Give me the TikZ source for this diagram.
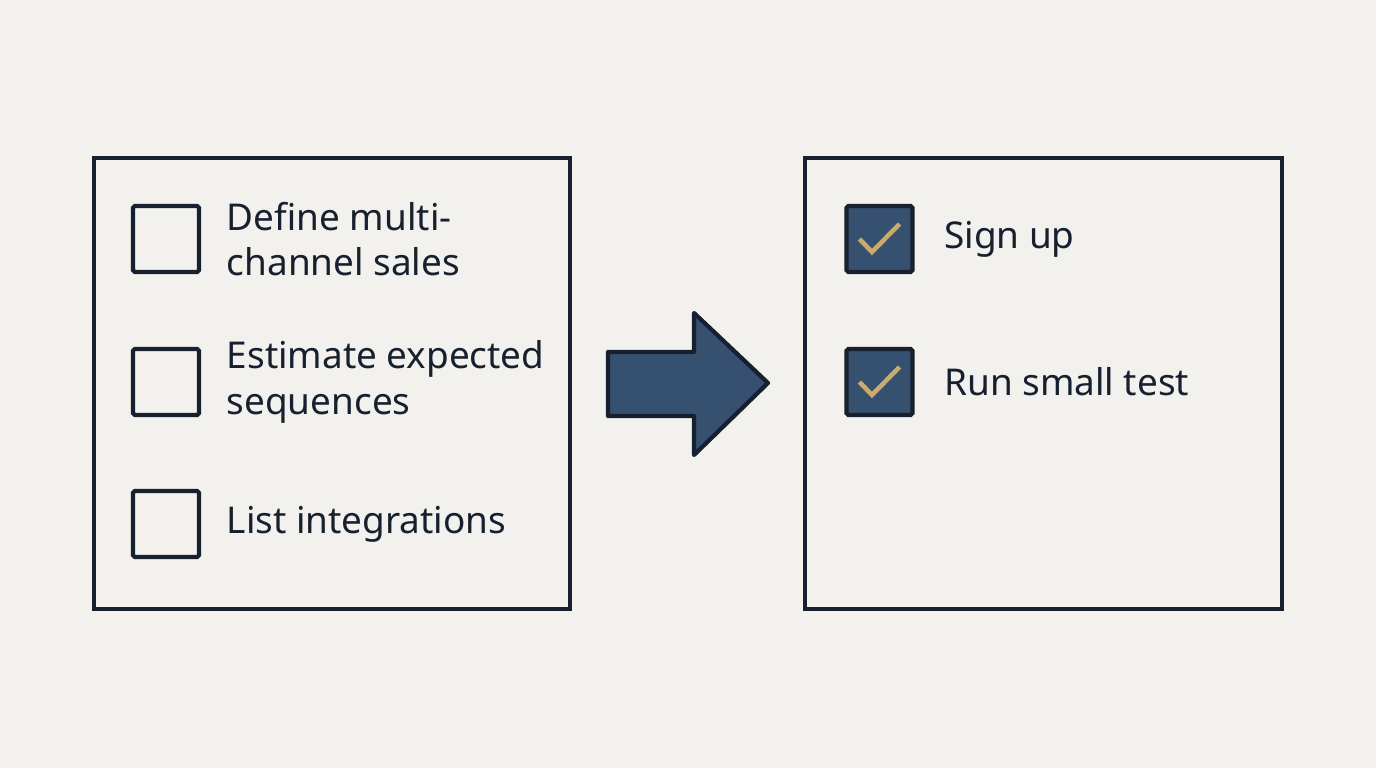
\documentclass[tikz,border=0pt]{standalone}
\usepackage{fontspec}
\setmainfont{Noto Sans}
\usetikzlibrary{positioning}

\definecolor{bgcol}{HTML}{F2F1ED}
\definecolor{inkcol}{HTML}{17202E}
\definecolor{navycol}{HTML}{36506F}
\definecolor{goldcol}{HTML}{C9AB6E}

\tikzset{
  panel/.style={draw=inkcol, line width=1.1pt},
  tickbox/.style={draw=inkcol, line width=1.2pt, minimum size=0.66cm, inner sep=0pt, rounded corners=0.5pt},
  donebox/.style={tickbox, fill=navycol},
  itemtext/.style={align=left, text=inkcol, font=\fontsize{10.5}{13}\selectfont, inner sep=0pt},
}

\begin{document}
\begin{tikzpicture}[x=1cm, y=1cm]
  \fill[bgcol] (0,0) rectangle (13.76,7.68);
  \useasboundingbox (0,0) rectangle (13.76,7.68);

  % to-do list
  \draw[panel] (0.94,1.59) rectangle (5.70,6.10);
  \node[tickbox] (todoA) at (1.66,5.29) {};
  \node[tickbox] (todoB) at (1.66,3.86) {};
  \node[tickbox] (todoC) at (1.66,2.44) {};
  \node[itemtext] (txtA) [right=0.25cm of todoA] {Define multi-\\channel sales};
  \node[itemtext] (txtB) [right=0.25cm of todoB] {Estimate expected\\sequences};
  \node[itemtext] (txtC) [right=0.25cm of todoC] {List integrations};

  % arrow
  \draw[inkcol, fill=navycol, line width=1.2pt, line join=round]
    (6.08,4.16) -- (6.94,4.16) -- (6.94,4.55) -- (7.68,3.85)
    -- (6.94,3.13) -- (6.94,3.52) -- (6.08,3.52) -- cycle;

  % done list
  \draw[panel] (8.05,1.59) rectangle (12.82,6.10);
  \node[donebox] (doneA) at (8.795,5.29) {};
  \node[donebox] (doneB) at (8.795,3.86) {};
  \node[itemtext] (txtD) [right=0.29cm of doneA] {Sign up};
  \node[itemtext] (txtE) [right=0.29cm of doneB] {Run small test};

  \foreach \b in {doneA, doneB}
    \draw[goldcol, line width=1.3pt]
      ([shift={(-0.2,0)}]\b.center) -- ([shift={(-0.075,-0.13)}]\b.center)
      -- ([shift={(0.2,0.15)}]\b.center);
\end{tikzpicture}
\end{document}
